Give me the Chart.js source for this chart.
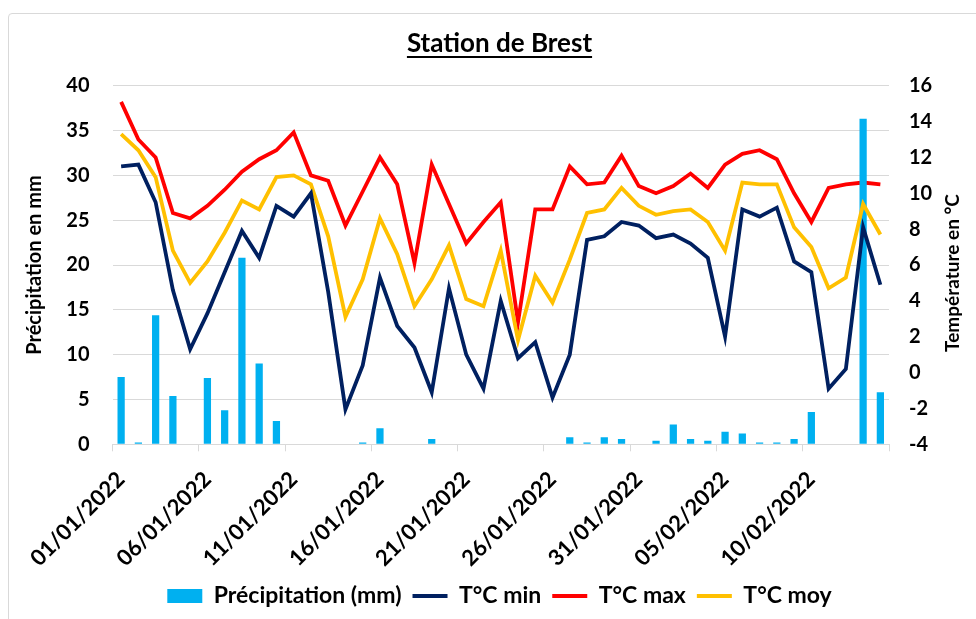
<!DOCTYPE html>
<html lang="fr">
<head>
<meta charset="utf-8">
<title>Station de Brest</title>
<script src="https://cdn.jsdelivr.net/npm/chart.js@4.4.1/dist/chart.umd.min.js"></script>
<style>
  html, body { margin: 0; padding: 0; background: #fff; }
  #cadre { position: relative; width: 976px; height: 619px; overflow: hidden; }
  #bord { position: absolute; left: 8px; top: 13px; width: 1000px; height: 700px; border: 1px solid #d9d9d9; border-radius: 4px; }
  canvas { position: absolute; left: 0; top: 0; }
</style>
</head>
<body>
<div id="cadre">
  <div id="bord"></div>
  <canvas id="graphe" width="976" height="619"></canvas>
</div>
<script>
// donnees (station de Brest, jan-fev 2022)
const dates = [
  "01/01/2022", "02/01/2022", "03/01/2022", "04/01/2022", "05/01/2022",
  "06/01/2022", "07/01/2022", "08/01/2022", "09/01/2022", "10/01/2022",
  "11/01/2022", "12/01/2022", "13/01/2022", "14/01/2022", "15/01/2022",
  "16/01/2022", "17/01/2022", "18/01/2022", "19/01/2022", "20/01/2022",
  "21/01/2022", "22/01/2022", "23/01/2022", "24/01/2022", "25/01/2022",
  "26/01/2022", "27/01/2022", "28/01/2022", "29/01/2022", "30/01/2022",
  "31/01/2022", "01/02/2022", "02/02/2022", "03/02/2022", "04/02/2022",
  "05/02/2022", "06/02/2022", "07/02/2022", "08/02/2022", "09/02/2022",
  "10/02/2022", "11/02/2022", "12/02/2022", "13/02/2022", "14/02/2022"
];

const precipitation = [
  7.5, 0.2, 14.4, 5.4, 0, 7.4, 3.8, 20.8, 9.0, 2.6,
  0, 0, 0, 0, 0.2, 1.8, 0, 0, 0.6, 0,
  0, 0, 0, 0, 0, 0, 0.8, 0.2, 0.8, 0.6,
  0, 0.4, 2.2, 0.6, 0.4, 1.4, 1.2, 0.2, 0.2, 0.6,
  3.6, 0, 0, 36.3, 5.8
];

const tMin = [
  11.5, 11.6, 9.5, 4.6, 1.3, 3.3, 5.6, 7.9, 6.4, 9.3,
  8.7, 10.0, 4.5, -2.05, 0.4, 5.3, 2.6, 1.4, -1.1, 4.7,
  1.0, -0.9, 4.0, 0.8, 1.7, -1.4, 1.0, 7.4, 7.6, 8.4,
  8.2, 7.5, 7.7, 7.2, 6.4, 2.0, 9.1, 8.7, 9.2, 6.2,
  5.6, -0.9, 0.2, 8.1, 4.9
];

const tMax = [
  15.1, 13.0, 12.0, 8.9, 8.6, 9.3, 10.2, 11.2, 11.9, 12.4,
  13.4, 11.0, 10.7, 8.2, 10.1, 12.0, 10.5, 6.1, 11.6, 9.4,
  7.2, 8.4, 9.5, 2.8, 9.1, 9.1, 11.5, 10.5, 10.6, 12.1,
  10.4, 10.0, 10.4, 11.1, 10.3, 11.6, 12.2, 12.4, 11.9, 10.0,
  8.4, 10.3, 10.5, 10.6, 10.5
];

const tMoy = [
  13.3, 12.4, 10.9, 6.8, 5.0, 6.2, 7.8, 9.6, 9.1, 10.9,
  11.0, 10.5, 7.6, 3.1, 5.2, 8.6, 6.6, 3.7, 5.2, 7.1,
  4.1, 3.7, 6.8, 1.8, 5.4, 3.9, 6.3, 8.9, 9.1, 10.3,
  9.3, 8.8, 9.0, 9.1, 8.4, 6.8, 10.6, 10.5, 10.5, 8.1,
  7.0, 4.7, 5.3, 9.4, 7.7
];

const titre = "Station de Brest";
const police = "Lato";
const gris = "#d9d9d9";

// soulignement du titre (Chart.js ne sait pas souligner)
const soulignement = {
  id: "soulignement",
  afterDraw(chart) {
    const t = chart.titleBlock;
    const c = chart.ctx;
    c.save();
    c.font = "bold 26px " + police;
    const w = c.measureText(titre).width;
    const cx = (t.left + t.right) / 2;
    const y = t.top + t.options.padding.top + 15.6 + 13;
    c.strokeStyle = "#000";
    c.lineWidth = 2;
    c.beginPath();
    c.moveTo(cx - w / 2, y);
    c.lineTo(cx + w / 2, y);
    c.stroke();
    c.restore();
  }
};

// titre de l'axe droit, lu de bas en haut comme dans Excel
const titreDroite = {
  id: "titreDroite",
  afterDraw(chart) {
    const s = chart.scales.yTemp;
    const c = chart.ctx;
    c.save();
    c.translate(s.right - 23, (chart.chartArea.top + chart.chartArea.bottom) / 2 + 8);
    c.rotate(-Math.PI / 2);
    c.font = "bold 19px " + police;
    c.fillStyle = "#000";
    c.textAlign = "center";
    c.textBaseline = "middle";
    c.fillText("Température en °C", 0, 0);
    c.restore();
  }
};

const ctx = document.getElementById("graphe").getContext("2d");

new Chart(ctx, {
  type: "bar",
  data: {
    labels: dates,
    datasets: [
      {
        label: "Précipitation (mm)",
        data: precipitation,
        backgroundColor: "#00b0f0",
        borderWidth: 0,
        pointStyle: "rect",
        barPercentage: 0.42,
        categoryPercentage: 1,
        yAxisID: "yPluie",
        order: 2
      },
      {
        type: "line",
        label: "T°C min",
        data: tMin,
        borderColor: "#002060",
        backgroundColor: "#002060",
        borderWidth: 3.8,
        pointRadius: 0,
        pointStyle: "line",
        tension: 0,
        yAxisID: "yTemp",
        order: 0
      },
      {
        type: "line",
        label: "T°C max",
        data: tMax,
        borderColor: "#ff0000",
        backgroundColor: "#ff0000",
        borderWidth: 3.8,
        pointRadius: 0,
        pointStyle: "line",
        tension: 0,
        yAxisID: "yTemp",
        order: 3
      },
      {
        type: "line",
        label: "T°C moy",
        data: tMoy,
        borderColor: "#ffc000",
        backgroundColor: "#ffc000",
        borderWidth: 3.8,
        pointRadius: 0,
        pointStyle: "line",
        tension: 0,
        yAxisID: "yTemp",
        order: 1
      }
    ]
  },
  options: {
    responsive: false,
    animation: false,
    devicePixelRatio: 1,
    layout: { padding: { left: 23, right: 0, top: 0, bottom: 1.5 } },
    plugins: {
      title: {
        display: true,
        text: titre,
        color: "#000",
        font: { family: police, size: 26, weight: "bold" },
        padding: { top: 28.5, bottom: 26 }
      },
      legend: {
        position: "bottom",
        labels: {
          usePointStyle: true,
          pointStyleWidth: 35,
          boxHeight: 14,
          padding: 11,
          color: "#000",
          font: { family: police, size: 23, weight: "bold" },
          sort: (a, b) => a.datasetIndex - b.datasetIndex
        }
      },
      tooltip: { enabled: false }
    },
    scales: {
      x: {
        offset: true,
        grid: {
          offset: true,
          drawOnChartArea: false,
          drawTicks: true,
          tickLength: 7,
          color: (c) => (c.index === undefined || c.index % 5 === 0) ? gris : "rgba(0,0,0,0)"
        },
        border: { color: gris },
        ticks: {
          autoSkip: false,
          minRotation: 45,
          maxRotation: 45,
          padding: 15,
          color: "#000",
          font: { family: police, size: 22, weight: "bold" },
          callback: (v, i) => (i % 5 === 0 ? dates[i] : "")
        },
        afterFit: (s) => { s.height = 129.2; }
      },
      yPluie: {
        position: "left",
        min: 0,
        max: 40,
        grid: { color: gris, drawTicks: false },
        border: { display: false },
        ticks: {
          stepSize: 5,
          padding: 23,
          color: "#000",
          font: { family: police, size: 20, weight: "bold" }
        },
        title: {
          display: true,
          text: "Précipitation en mm",
          color: "#000",
          font: { family: police, size: 20, weight: "bold" },
          padding: { top: 0, bottom: 0 }
        },
        afterFit: (s) => { s.width = 89.5; }
      },
      yTemp: {
        position: "right",
        min: -4,
        max: 16,
        grid: { drawOnChartArea: false, drawTicks: false },
        border: { display: false },
        ticks: {
          stepSize: 2,
          padding: 20,
          color: "#000",
          font: { family: police, size: 20, weight: "bold" }
        },
        afterFit: (s) => { s.width = 87; }
      }
    }
  },
  plugins: [soulignement, titreDroite]
});
</script>
</body>
</html>
